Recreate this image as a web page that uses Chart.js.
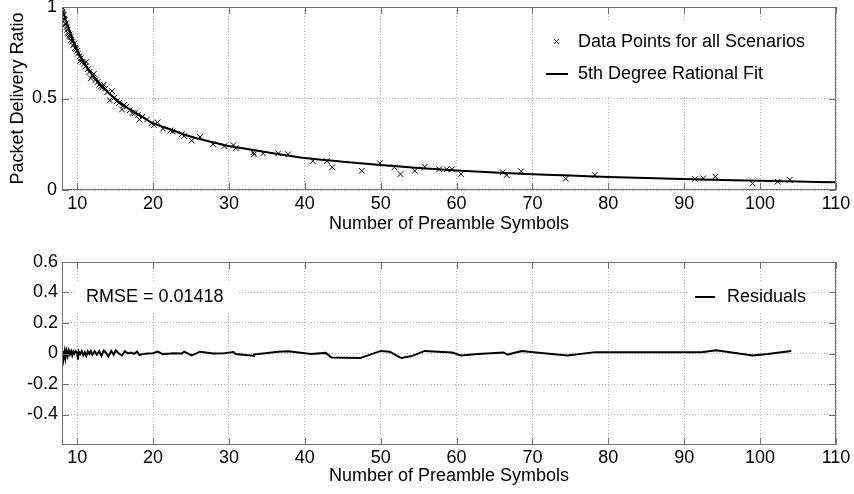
<!DOCTYPE html>
<html>
<head>
<meta charset="utf-8">
<script src="https://cdn.jsdelivr.net/npm/chart.js"></script>
<style>
html, body { margin: 0; padding: 0; background: #fff; }
#top { position: absolute; left: 0; top: 0; width: 854px; height: 240px; }
#bot { position: absolute; left: 0; top: 240px; width: 854px; height: 254px; }
</style>
</head>
<body>
<div id="top"><canvas id="fitChart"></canvas></div>
<div id="bot"><canvas id="residChart"></canvas></div>
<script>
// measured points (all scenarios)
var pointsX = [8.0, 8.05, 8.1, 8.15, 8.2, 8.3, 8.35, 8.45, 8.5, 8.6, 8.7, 8.75, 8.85, 8.95, 9.0, 9.1, 9.2, 9.3, 9.45, 9.6,
  9.7, 9.85, 10.0, 10.1, 10.3, 10.4, 10.5, 10.7, 10.9, 11.1, 11.2, 11.4, 11.6, 11.8, 12.0, 12.2, 12.4, 12.7, 12.9, 13.1,
  13.3, 13.5, 13.7, 14.0, 14.3, 14.6, 14.9, 15.2, 15.5, 15.9, 16.2, 16.5, 16.9, 17.3, 17.6, 18.0, 18.2, 18.6, 19.2, 19.8,
  20.1, 20.6, 21.3, 22.3, 22.6, 23.8, 24.1, 25.1, 26.2, 27.9, 29.4, 30.6, 30.9, 33.2, 33.3, 34.5, 36.5, 37.8, 41.05, 42.9,
  43.6, 47.5, 49.9, 51.8, 52.6, 54.5, 55.8, 57.7, 58.7, 59.4, 60.6, 66.1, 66.6, 68.5, 74.4, 78.2, 91.4, 92.5, 94.1, 99.0,
  102.3, 103.9];
var pointsY = [1.0, 0.985, 0.97, 0.96, 0.955, 0.935, 0.93, 0.91, 0.905, 0.89, 0.875, 0.86, 0.855, 0.84, 0.85, 0.835, 0.82, 0.81, 0.79, 0.80,
  0.775, 0.77, 0.76, 0.745, 0.73, 0.705, 0.72, 0.70, 0.69, 0.675, 0.70, 0.66, 0.645, 0.61, 0.625, 0.635, 0.60, 0.59, 0.575, 0.565,
  0.56, 0.575, 0.555, 0.535, 0.49, 0.54, 0.505, 0.485, 0.475, 0.44, 0.465, 0.455, 0.435, 0.42, 0.42, 0.41, 0.385, 0.40, 0.385, 0.365,
  0.355, 0.37, 0.335, 0.325, 0.32, 0.305, 0.295, 0.27, 0.29, 0.25, 0.24, 0.245, 0.228, 0.205, 0.195, 0.2, 0.2, 0.195, 0.158, 0.158,
  0.124, 0.105, 0.146, 0.124, 0.087, 0.105, 0.127, 0.113, 0.113, 0.113, 0.087, 0.097, 0.082, 0.102, 0.062, 0.082, 0.06, 0.064, 0.073, 0.036,
  0.045, 0.055];

// rational fit curve
var fitX = [8, 9, 10, 11, 12, 13, 14, 15, 16, 17, 18, 20, 22, 24, 26, 28, 30, 33, 36, 40, 45, 50, 55, 60, 65, 70, 75, 80, 85, 90, 95, 100, 105, 110];
var fitY = [0.99, 0.87, 0.765, 0.69, 0.63, 0.58, 0.535, 0.50, 0.465, 0.44, 0.415, 0.365, 0.335, 0.305, 0.28, 0.26, 0.24, 0.22, 0.20, 0.175,
  0.155, 0.137, 0.12, 0.106, 0.095, 0.086, 0.079, 0.071, 0.065, 0.060, 0.055, 0.050, 0.046, 0.042];

// residuals
var residX = [8.0, 8.1, 8.2, 8.35, 8.45, 8.6, 8.75, 8.9, 9.05, 9.2, 9.35, 9.5, 9.65, 9.8, 10.0, 10.1, 10.2, 10.4, 10.6, 10.8,
  11.0, 11.2, 11.4, 11.6, 11.8, 12.0, 12.3, 12.6, 12.9, 13.2, 13.5, 13.8, 14.1, 14.5, 14.8, 15.1, 15.5, 15.9, 16.3, 16.7,
  17.1, 17.5, 17.9, 18.2, 18.6, 19.3, 20.0, 20.6, 21.3, 22.3, 22.6, 23.8, 24.1, 25.1, 26.2, 27.9, 29.4, 30.6, 30.9, 33.2,
  33.3, 34.5, 36.5, 37.8, 40.8, 42.75, 43.5, 47.3, 50.0, 51.2, 52.7, 54.1, 55.8, 59.4, 60.6, 62.8, 66.2, 66.7, 68.6, 70.5,
  74.6, 78.3, 85.0, 92.3, 94.2, 99.0, 101.0, 104.1];
var residY = [-0.03, 0.015, -0.035, 0.012, -0.03, 0.018, -0.015, 0.02, -0.005, 0.015, -0.012, 0.014, 0.0, 0.016, 0.004, -0.04, 0.014, -0.004, 0.015, -0.012,
  0.008, -0.016, 0.014, -0.003, 0.016, -0.008, 0.014, -0.008, 0.016, -0.016, 0.02, 0.004, -0.02, 0.016, -0.008, 0.02, 0.0, -0.012, 0.015, 0.0,
  0.006, -0.002, 0.012, -0.01, -0.004, 0.0, 0.002, 0.012, -0.004, 0.0, 0.002, 0.0, 0.012, -0.012, 0.012, 0.0, 0.002, 0.01, -0.004, -0.014,
  -0.006, 0.0, 0.012, 0.015, -0.004, 0.004, -0.026, -0.03, 0.017, 0.011, -0.03, -0.017, 0.017, 0.007, -0.013, -0.004, 0.007, -0.007, 0.017, 0.007,
  -0.013, 0.009, 0.009, 0.009, 0.022, -0.013, -0.004, 0.017];

var xTicks = [10, 20, 30, 40, 50, 60, 70, 80, 90, 100, 110];
var topYTicks = [0, 0.5, 1];
var topYLabels = ["0", "0.5", "1"];
var botYTicks = [-0.4, -0.2, 0, 0.2, 0.4, 0.6];
var botYLabels = ["-0.4", "-0.2", "0", "0.2", "0.4", "0.6"];
var rmseText = "RMSE = 0.01418";

var FONT = { family: "'Liberation Sans', Arial, sans-serif", size: 18 };
var FRAME = "#707070";
var GRID = "#b4b4b4";

function zip(xs, ys) {
  return xs.map(function (x, i) { return { x: x, y: ys[i] }; });
}

function noPad(s) {
  s.paddingTop = 0; s.paddingBottom = 0; s.paddingLeft = 0; s.paddingRight = 0;
}

// box round the plot with inward tick marks on all four sides
var framePlugin = {
  id: "frame",
  afterDatasetsDraw: function (chart) {
    var a = chart.chartArea, ctx = chart.ctx, len = 7;
    ctx.save();
    ctx.strokeStyle = FRAME;
    ctx.lineWidth = 1;
    ctx.strokeRect(a.left + 0.5, a.top + 0.5, a.right - a.left - 1, a.bottom - a.top - 1);
    ctx.beginPath();
    chart.scales.x.ticks.forEach(function (t) {
      var px = Math.round(chart.scales.x.getPixelForValue(t.value)) + 0.5;
      ctx.moveTo(px, a.bottom); ctx.lineTo(px, a.bottom - len);
      ctx.moveTo(px, a.top); ctx.lineTo(px, a.top + len);
    });
    chart.scales.y.ticks.forEach(function (t) {
      var py = Math.round(chart.scales.y.getPixelForValue(t.value)) + 0.5;
      ctx.moveTo(a.left, py); ctx.lineTo(a.left + len, py);
      ctx.moveTo(a.right, py); ctx.lineTo(a.right - len, py);
    });
    ctx.stroke();
    ctx.restore();
  }
};

function xScale(height, pad, titlePad) {
  return {
    type: "linear",
    min: 8,
    max: 110,
    afterBuildTicks: function (s) { s.ticks = xTicks.map(function (v) { return { value: v }; }); },
    afterFit: function (s) { s.height = height; noPad(s); },
    ticks: { color: "#000", font: FONT, padding: pad, autoSkip: false, maxRotation: 0 },
    grid: { color: GRID, drawTicks: false },
    border: { display: false, dash: [1, 2] },
    title: { display: true, text: "Number of Preamble Symbols", color: "#000", font: FONT, padding: { top: 0, bottom: titlePad } }
  };
}

// ---------- top: data points and fit ----------
new Chart("fitChart", {
  type: "scatter",
  data: {
    datasets: [{
      label: "Data Points for all Scenarios",
      data: zip(pointsX, pointsY),
      pointStyle: "crossRot",
      pointRadius: 4,
      borderColor: "#000",
      borderWidth: 1,
      backgroundColor: "#000"
    }, {
      type: "line",
      label: "5th Degree Rational Fit",
      data: zip(fitX, fitY),
      showLine: true,
      pointRadius: 0,
      borderColor: "#000",
      borderWidth: 2,
      cubicInterpolationMode: "monotone",
      fill: false
    }]
  },
  options: {
    responsive: true,
    maintainAspectRatio: false,
    animation: false,
    devicePixelRatio: 1,
    layout: { padding: { top: 7, right: 18, left: 0, bottom: 0 } },
    plugins: { legend: { display: false }, tooltip: { enabled: false } },
    scales: {
      x: xScale(50, 3, 5),
      y: {
        min: 0,
        max: 1,
        afterBuildTicks: function (s) { s.ticks = topYTicks.map(function (v) { return { value: v }; }); },
        afterFit: function (s) { s.width = 62; noPad(s); },
        ticks: {
          color: "#000", font: FONT, padding: 5, autoSkip: false,
          callback: function (v, i) { return topYLabels[i]; }
        },
        grid: { color: GRID, drawTicks: false },
        border: { display: false, dash: [1, 2] },
        title: { display: true, text: "Packet Delivery Ratio", color: "#000", font: FONT, padding: { top: 7, bottom: 0 } }
      }
    }
  },
  plugins: [framePlugin, {
    id: "fitLegend",
    beforeDatasetsDraw: function (chart) {
      var ctx = chart.ctx, a = chart.chartArea, ds = chart.data.datasets;
      var x0 = a.right - 295;
      ctx.save();
      ctx.fillStyle = "#fff";
      ctx.fillRect(x0, a.top + 13, 294, 75);
      ctx.strokeStyle = "#000";
      ctx.lineWidth = 1;
      ctx.beginPath();
      ctx.moveTo(x0 + 13, 39); ctx.lineTo(x0 + 18, 44);
      ctx.moveTo(x0 + 18, 39); ctx.lineTo(x0 + 13, 44);
      ctx.stroke();
      ctx.lineWidth = 2;
      ctx.beginPath();
      ctx.moveTo(x0 + 5, 74); ctx.lineTo(x0 + 27, 74);
      ctx.stroke();
      ctx.fillStyle = "#000";
      ctx.font = "18px 'Liberation Sans', Arial, sans-serif";
      ctx.textBaseline = "middle";
      ctx.fillText(ds[0].label, x0 + 37, 42);
      ctx.fillText(ds[1].label, x0 + 37, 74);
      ctx.restore();
    }
  }]
});

// ---------- bottom: residuals ----------
new Chart("residChart", {
  type: "line",
  data: {
    datasets: [{
      label: "Residuals",
      data: zip(residX, residY),
      pointRadius: 0,
      borderColor: "#000",
      borderWidth: 2,
      fill: false
    }]
  },
  options: {
    responsive: true,
    maintainAspectRatio: false,
    animation: false,
    devicePixelRatio: 1,
    layout: { padding: { top: 22, right: 18, left: 0, bottom: 0 } },
    plugins: { legend: { display: false }, tooltip: { enabled: false } },
    scales: {
      x: xScale(49, 2, 7),
      y: {
        min: -0.6,
        max: 0.6,
        afterBuildTicks: function (s) { s.ticks = botYTicks.map(function (v) { return { value: v }; }); },
        afterFit: function (s) { s.width = 62; noPad(s); },
        ticks: {
          color: "#000", font: FONT, padding: 4, autoSkip: false,
          callback: function (v, i) { return botYLabels[i]; }
        },
        grid: { color: GRID, drawTicks: false },
        border: { display: false, dash: [1, 2] }
      }
    }
  },
  plugins: [framePlugin, {
    id: "residLegend",
    beforeDatasetsDraw: function (chart) {
      var ctx = chart.ctx, a = chart.chartArea;
      ctx.save();
      ctx.fillStyle = "#fff";
      ctx.fillRect(a.left + 15, 43, 161, 28);
      ctx.fillRect(a.right - 149, 43, 125, 28);
      ctx.strokeStyle = "#000";
      ctx.lineWidth = 2;
      ctx.beginPath();
      ctx.moveTo(a.right - 141, 57); ctx.lineTo(a.right - 121, 57);
      ctx.stroke();
      ctx.fillStyle = "#000";
      ctx.font = "18px 'Liberation Sans', Arial, sans-serif";
      ctx.textBaseline = "middle";
      ctx.fillText(chart.data.datasets[0].label, a.right - 109, 57);
      ctx.fillText(rmseText, a.left + 24, 57);
      ctx.restore();
    }
  }]
});
</script>
</body>
</html>
